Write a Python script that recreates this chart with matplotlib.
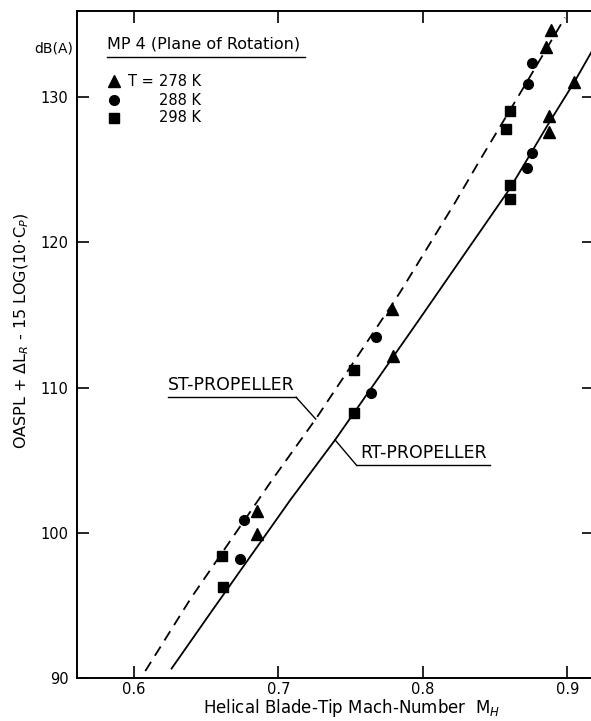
import numpy as np
import matplotlib
matplotlib.use('Agg')
import matplotlib.pyplot as plt

# measured points, T = 278 K (triangles), 288 K (circles), 298 K (squares)
tri_x = [0.6848, 0.6853, 0.7795, 0.7788, 0.8871, 0.8876, 0.8853, 0.8887, 0.9048]
tri_y = [99.9, 101.5, 112.2, 115.4, 127.6, 128.7, 133.4, 134.6, 131.0]
cir_x = [0.6731, 0.6761, 0.7641, 0.7674, 0.8720, 0.8757, 0.8726, 0.8757]
cir_y = [98.2, 100.9, 109.6, 113.5, 125.1, 126.1, 130.9, 132.3]
sq_x = [0.6619, 0.6612, 0.7526, 0.7526, 0.8605, 0.8605, 0.8577, 0.8605]
sq_y = [96.3, 98.4, 108.25, 111.2, 123.0, 123.9, 127.8, 129.0]

# curves
st_x = [0.6078, 0.6393, 0.6957, 0.7260, 0.7841, 0.8221, 0.8393, 0.8692, 0.8984]
st_y = [90.5, 95.5, 103.66, 107.86, 116.53, 122.69, 125.61, 130.55, 135.45]
rt_x = [0.6260, 0.6543, 0.7083, 0.7393, 0.7979, 0.8300, 0.8600, 0.8870, 0.9048, 0.9180]
rt_y = [90.67, 94.69, 102.28, 106.41, 114.74, 119.35, 123.65, 128.15, 131.0, 133.3]

temps = ['278 K', '288 K', '298 K']
x_ticks = [0.6, 0.7, 0.8, 0.9]
y_ticks = [90, 100, 110, 120, 130]

plt.rcParams['font.family'] = ['DejaVu Sans']
W, H = 591, 721
fig = plt.figure(figsize=(W / 100, H / 100), dpi=100)
ax = fig.add_axes([77 / W, (H - 678.3) / H, (594 - 77) / W, (678.3 - 11) / H])

ax.plot(st_x, st_y, color='black', lw=1.3, dashes=[6, 4])
ax.plot(rt_x, rt_y, color='black', lw=1.3)

ax.plot(tri_x, tri_y, '^', color='black', ms=8, ls='none')
ax.plot(cir_x, cir_y, 'o', color='black', ms=7, ls='none')
ax.plot(sq_x, sq_y, 's', color='black', ms=6.5, ls='none')

ax.set_xlim(0.5605, 0.9185)
ax.set_ylim(90, 135.9)
ax.set_xticks(x_ticks)
ax.set_xticklabels(['0.6', '0.7', '0.8', '0.9'])
ax.set_yticks(y_ticks)
ax.tick_params(direction='in', length=8.5, width=1.2, top=True, right=True,
               labelsize=10.5)
ax.tick_params(axis='y', pad=6)
ax.tick_params(axis='x', pad=3)
for s in ax.spines.values():
    s.set_linewidth(1.4)


# underlined label with a leader line from one end of the underline onto the curve
def label(text, tx, ty, ux0, ux1, uy, joint_x, cx, curve_x, curve_y):
    ax.text(tx, ty, text, fontsize=12.5, ha='left', va='bottom')
    ax.plot([ux0, ux1], [uy, uy], color='black', lw=1.0)
    cy = np.interp(cx, curve_x, curve_y)
    ax.plot([joint_x, cx], [uy, cy], color='black', lw=1.0)


label('ST-PROPELLER', 0.6235, 109.55, 0.6235, 0.7122, 109.33, 0.7122, 0.7258, st_x, st_y)
label('RT-PROPELLER', 0.7565, 104.85, 0.7542, 0.8465, 104.64, 0.7542, 0.7392, rt_x, rt_y)

# legend block
ax.text(0.058, 0.951, 'MP 4 (Plane of Rotation)', transform=ax.transAxes,
        fontsize=11.5, va='center', ha='left')
ax.plot([0.058, 0.441], [0.931, 0.931], transform=ax.transAxes, color='black', lw=1.0)
rows = [0.895, 0.8666, 0.8397]
marks = ['^', 'o', 's']
sizes = [8, 7, 6.5]
for r, m, ms, t in zip(rows, marks, sizes, temps):
    ax.plot([0.0716], [r], m, color='black', ms=ms, transform=ax.transAxes)
    ax.text(0.1586, r, t, transform=ax.transAxes, fontsize=10.5, va='center', ha='left')
ax.text(0.0986, rows[0], 'T =', transform=ax.transAxes, fontsize=10.5, va='center', ha='left')

fig.text(73 / W, 1 - 48 / H, 'dB(A)', fontsize=10, ha='right', va='center')
fig.text(22 / W, 1 - 331 / H, r'OASPL + $\Delta$L$_R$ - 15 LOG(10$\cdot$C$_P$)',
         rotation=90, fontsize=11.5, ha='center', va='center')
fig.text(352 / W, 1 - 708 / H, r'Helical Blade-Tip Mach-Number  M$_H$',
         fontsize=12, ha='center', va='center')

fig.savefig('out.png', dpi=100)
